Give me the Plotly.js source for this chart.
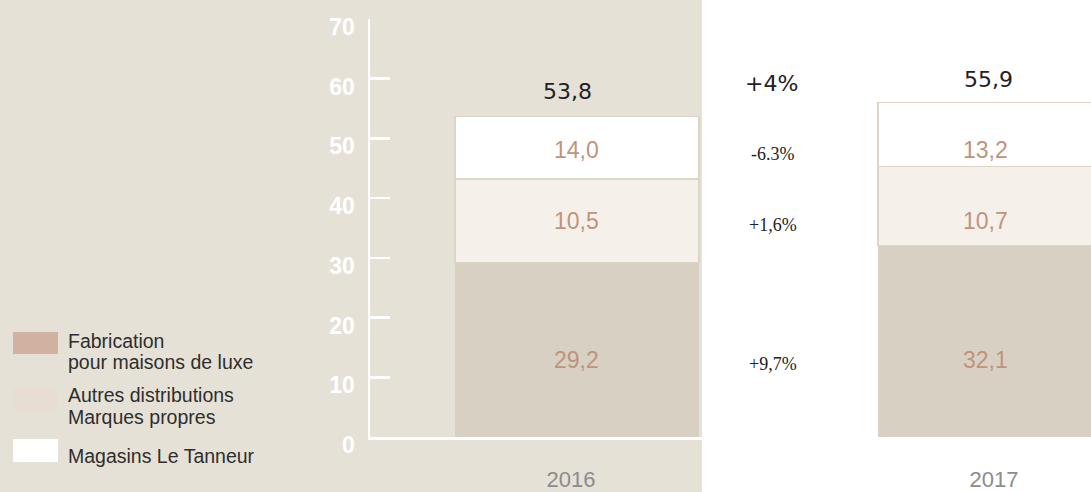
<!DOCTYPE html>
<html>
<head>
<meta charset="utf-8">
<script src="https://cdn.plot.ly/plotly-3.0.1.min.js"></script>
<style>html,body{margin:0;padding:0;background:#fff;}#chart{width:1091px;height:492px;}</style>
</head>
<body>
<div id="chart"></div>
<script>
// ---- data ----
const years = ['2016', '2017'];
const fabrication = [29.2, 32.1];
const autres = [10.5, 10.7];
const magasins = [14.0, 13.2];
const totals = [53.8, 55.9];
const evolTotal = '+4%';
const evolMagasins = '-6.3%';
const evolAutres = '+1,6%';
const evolFabrication = '+9,7%';
const yTicks = [0, 10, 20, 30, 40, 50, 60, 70];
const legendLines = [
  ['Fabrication', 'pour maisons de luxe'],
  ['Autres distributions', 'Marques propres'],
  ['Magasins Le Tanneur']
];

// ---- layout helpers ----
const W = 1091, H = 492;
const L = 370, R = 1091, T = 19, B = 437;
const px = x => (x - L) / (R - L);
const py = y => (B - y) / (B - T);
const fmt = v => v.toFixed(1).replace('.', ',');

const BEIGE = '#e6e1d7';
const C_FAB = '#d8d0c2', C_MID = '#f5f1ea', C_TOP = '#ffffff';
const OUTLINE = '#ddd4c6';
const LABEL_C = '#c0937b';

const barW = 0.577;
const xs = years.map((_, i) => i);

const traces = [
  {type: 'bar', x: xs, y: fabrication, width: barW, name: 'Fabrication',
   marker: {color: C_FAB, line: {width: 0}}, hoverinfo: 'skip'},
  {type: 'bar', x: xs, y: magasins, width: barW, name: 'Magasins Le Tanneur',
   marker: {color: C_MID, line: {color: OUTLINE, width: 1.5}}, hoverinfo: 'skip'},
  {type: 'bar', x: xs, y: autres, width: barW, name: 'Autres distributions',
   marker: {color: C_TOP, line: {color: OUTLINE, width: 1.5}}, hoverinfo: 'skip'}
];

// label rows (data units) and per-bar horizontal nudges (px)
const ROW_FAB = 12.9, ROW_MID = 36.2, ROW_TOP = 48.1;
const segShift = [0, -15];
const totShift = [-9, -12];

const annotations = [];
xs.forEach(i => {
  const f = {family: 'Liberation Sans, Arial, sans-serif', size: 23, color: LABEL_C};
  annotations.push({x: i, xshift: segShift[i], y: ROW_FAB, text: fmt(fabrication[i]), showarrow: false, font: f});
  annotations.push({x: i, xshift: segShift[i], y: ROW_MID, text: fmt(autres[i]), showarrow: false, font: f});
  annotations.push({x: i, xshift: segShift[i], y: ROW_TOP, text: fmt(magasins[i]), showarrow: false, font: f});
  annotations.push({x: i, xshift: totShift[i], y: totals[i], yshift: 24, text: fmt(totals[i]), showarrow: false,
    font: {family: 'DejaVu Sans, sans-serif', size: 22, color: '#222'}});
});
const serif = {family: 'Liberation Serif, Times New Roman, serif', size: 18, color: '#222'};
annotations.push({x: 0.5, xshift: -17, y: totals[1], yshift: 20, text: evolTotal, showarrow: false,
  font: {family: 'DejaVu Sans, sans-serif', size: 22, color: '#222'}});
annotations.push({x: 0.5, xshift: -15, y: ROW_TOP, yshift: -4, text: evolMagasins, showarrow: false, font: serif});
annotations.push({x: 0.5, xshift: -15, y: ROW_MID, yshift: -4, text: evolAutres, showarrow: false, font: serif});
annotations.push({x: 0.5, xshift: -15, y: ROW_FAB, yshift: -4, text: evolFabrication, showarrow: false, font: serif});

// legend (custom)
const swatches = [
  {y0: 332, y1: 354, color: '#d1b2a1'},
  {y0: 388, y1: 411, color: '#e9dcd2'},
  {y0: 439, y1: 462, color: '#ffffff'}
];
const legendTextY = [[341, 362], [395, 417], [456]];
const legFont = {family: 'Liberation Sans, Arial, sans-serif', size: 19.5, color: '#2e2e2e'};
const shapes = [
  {type: 'rect', xref: 'paper', yref: 'paper', x0: -0.6, x1: px(702), y0: -0.3, y1: 1.2,
   fillcolor: BEIGE, line: {width: 0}, layer: 'below'}
];
swatches.forEach(s => shapes.push({type: 'rect', xref: 'paper', yref: 'paper',
  x0: px(13), x1: px(58), y0: py(s.y1), y1: py(s.y0), fillcolor: s.color, line: {width: 0}, layer: 'above'}));
legendLines.forEach((lines, k) => lines.forEach((t, j) => annotations.push({
  xref: 'paper', yref: 'paper', x: px(66), y: py(legendTextY[k][j]), xanchor: 'left', yanchor: 'middle',
  text: t, showarrow: false, font: legFont})));

const layout = {
  width: W, height: H, autosize: false,
  margin: {l: L, r: W - R, t: T, b: H - B, pad: 0},
  paper_bgcolor: '#ffffff', plot_bgcolor: 'rgba(0,0,0,0)',
  barmode: 'stack', showlegend: false,
  xaxis: {range: [-0.489, 1.215], tickvals: xs, ticktext: years, showgrid: false, zeroline: false,
    showline: true, linecolor: '#ffffff', linewidth: 2.5, ticks: '', ticklabelstandoff: 21, ticklabelshift: -6,
    tickfont: {family: 'Liberation Sans, Arial, sans-serif', size: 22, color: '#8c8c8c'}, fixedrange: true},
  yaxis: {range: [0, 70], tickvals: yTicks, ticktext: yTicks.map(v => '<b>' + v + '</b>'),
    showgrid: false, zeroline: false,
    showline: true, linecolor: '#ffffff', linewidth: 2.5, ticks: 'inside', ticklen: 20, tickwidth: 2.5,
    tickcolor: '#ffffff', ticklabelstandoff: 8, ticklabelshift: 8,
    tickfont: {family: 'Liberation Sans, Arial, sans-serif', size: 23, color: '#ffffff'}, fixedrange: true},
  shapes: shapes,
  annotations: annotations
};

Plotly.newPlot('chart', traces, layout, {displayModeBar: false, staticPlot: true});
</script>
</body>
</html>
